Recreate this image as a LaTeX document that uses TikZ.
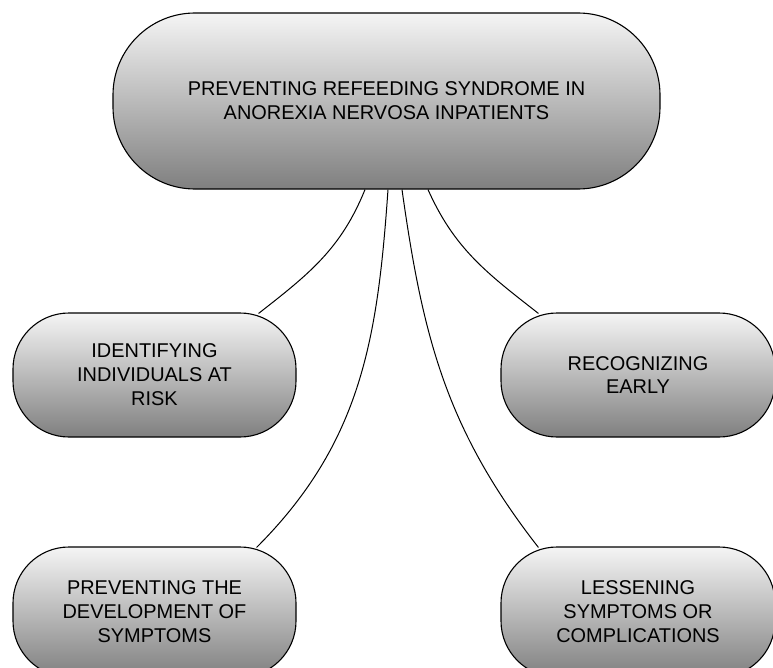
\documentclass[tikz,border=0pt]{standalone}
\usepackage{fontspec}
\setmainfont{Liberation Sans}
\begin{document}
\begin{tikzpicture}[x=1bp,y=-1bp,
  pill/.style={draw=black, line width=1.1bp, top color=white!96!black, bottom color=black!50,
    rectangle, align=center, font=\fontsize{20}{24}\selectfont, inner sep=0pt},
  link/.style={draw=black, line width=1bp}]
\useasboundingbox (0,0) rectangle (773,668);
\clip (0,0) rectangle (773,668);
\node[pill, rounded corners=82bp, minimum width=547bp, minimum height=176bp] (top) at (386.5,101)
  {PREVENTING REFEEDING SYNDROME IN\\ANOREXIA NERVOSA INPATIENTS};
\node[pill, rounded corners=56bp, minimum width=283bp, minimum height=124bp] (lm) at (154.5,375)
  {IDENTIFYING\\INDIVIDUALS AT\\RISK};
\node[pill, rounded corners=56bp, minimum width=274bp, minimum height=124bp] (rm) at (638,375)
  {RECOGNIZING\\EARLY};
\node[pill, rounded corners=56bp, minimum width=283bp, minimum height=130bp] (lb) at (154.5,612)
  {PREVENTING THE\\DEVELOPMENT OF\\SYMPTOMS};
\node[pill, rounded corners=56bp, minimum width=274bp, minimum height=130bp] (rb) at (638,612)
  {LESSENING\\SYMPTOMS OR\\COMPLICATIONS};
\coordinate (s1) at ([xshift=-21.5bp]top.south);
\coordinate (s2) at ([xshift=1.5bp]top.south);
\coordinate (s3) at ([xshift=15.5bp]top.south);
\coordinate (s4) at ([xshift=41.5bp]top.south);
\coordinate (e1) at ([xshift=-38bp,yshift=-1bp]lm.north east);
\coordinate (e2) at ([xshift=-40bp,yshift=-1bp]lb.north east);
\coordinate (e3) at ([xshift=38bp,yshift=-1bp]rm.north west);
\coordinate (e4) at ([xshift=38bp,yshift=-1bp]rb.north west);
\draw[link] (s1) to[out=-112,in=38] (e1);
\draw[link] (s2) to[out=-94,in=45] (e2);
\draw[link] (s4) to[out=-66,in=142] (e3);
\draw[link] (s3) to[out=-82,in=128] (e4);
\end{tikzpicture}
\end{document}
